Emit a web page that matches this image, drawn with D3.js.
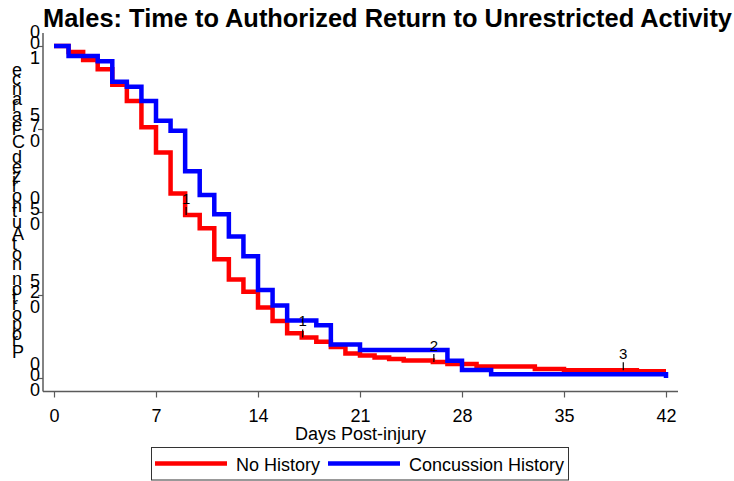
<!DOCTYPE html>
<html>
<head>
<meta charset="utf-8">
<script src="https://cdn.jsdelivr.net/npm/d3@7"></script>
<style>
  body { margin: 0; background: #fff; }
  svg { display: block; font-family: "Liberation Sans", Arial, Helvetica, sans-serif; }
</style>
</head>
<body>
<script>
// Kaplan-Meier step data
var noHistDays = [0, 1, 2, 3, 4, 5, 6, 7, 8, 9, 10, 11, 12, 13, 14, 15, 16, 17, 18, 19, 20, 21, 22, 23, 24, 26, 27, 29, 33, 35, 40, 42]
var noHistSurv = [1, 0.982, 0.958, 0.930, 0.883, 0.834, 0.755, 0.679, 0.556, 0.491, 0.451, 0.358, 0.297, 0.260, 0.212, 0.172, 0.135, 0.122, 0.109, 0.093, 0.074, 0.068, 0.062, 0.057, 0.053, 0.048, 0.042, 0.035, 0.027, 0.023, 0.020, 0.020]
var concDays = [0, 1, 3, 4, 5, 6, 7, 8, 9, 10, 11, 12, 13, 14, 15, 16, 18, 19, 21, 27, 28, 30, 42]
var concSurv = [1, 0.970, 0.954, 0.892, 0.877, 0.834, 0.775, 0.745, 0.623, 0.551, 0.493, 0.426, 0.367, 0.265, 0.218, 0.173, 0.159, 0.101, 0.084, 0.052, 0.024, 0.011, 0]

// censored counts shown on the No History curve
var censorDays = [9, 17, 26, 39]
var censorCounts = [1, 1, 2, 3]

var xTicks = [0, 7, 14, 21, 28, 35, 42]
var yTicks = [0, 0.25, 0.5, 0.75, 1]

var titleText = "Males: Time to Authorized Return to Unrestricted Activity"
var yTitle = "Proportion not Authorized Clearance"
var xTitle = "Days Post-injury"
var seriesNames = ["No History", "Concussion History"]
var seriesColors = ["#ff0000", "#0000ff"]

var W = 734, H = 481
var region = { left: 43, right: 678, top: 33, bottom: 391.5 }
var axisColor = "#5a5a5a"
var fontStack = "'Liberation Sans', Arial, sans-serif"

var x = d3.scaleLinear().domain([0, 42]).range([54, 666])
var y = d3.scaleLinear().domain([0, 1]).range([378, 46])

var svg = d3.select("body").append("svg")
    .attr("width", W)
    .attr("height", H)

// title
svg.append("text")
    .attr("x", 43)
    .attr("y", 27)
    .attr("font-size", "25px")
    .attr("font-weight", "bold")
    .attr("fill", "#000")
    .attr("textLength", 689)
    .attr("lengthAdjust", "spacingAndGlyphs")
    .text(titleText)

// axis lines of the plot region
svg.append("line")
    .attr("x1", region.left).attr("x2", region.left)
    .attr("y1", region.top).attr("y2", region.bottom)
    .attr("stroke", axisColor).attr("stroke-width", 1.5)
svg.append("line")
    .attr("x1", region.left).attr("x2", region.right)
    .attr("y1", region.bottom).attr("y2", region.bottom)
    .attr("stroke", axisColor).attr("stroke-width", 1.5)

// x axis
var xAxis = svg.append("g")
    .attr("transform", "translate(0," + region.bottom + ")")
    .call(d3.axisBottom(x).tickValues(xTicks).tickSize(6).tickPadding(12).tickSizeOuter(0))
xAxis.select(".domain").remove()
xAxis.selectAll(".tick line").attr("stroke", axisColor).attr("stroke-width", 1.2)
xAxis.selectAll(".tick text")
    .attr("font-family", fontStack)
    .attr("font-size", "18px")
    .attr("fill", "#000")

svg.append("text")
    .attr("x", (region.left + region.right) / 2)
    .attr("y", 440)
    .attr("text-anchor", "middle")
    .attr("font-size", "18px")
    .attr("fill", "#000")
    .text(xTitle)

// y axis ticks
var yAxis = svg.append("g")
    .attr("transform", "translate(" + region.left + ",0)")
    .call(d3.axisLeft(y).tickValues(yTicks).tickSize(5).tickSizeOuter(0).tickFormat(""))
yAxis.select(".domain").remove()
yAxis.selectAll(".tick line").attr("stroke", axisColor).attr("stroke-width", 1.2)

// y labels come out with upright glyphs stacked bottom to top
var ctx = document.createElement("canvas").getContext("2d")
ctx.font = "18px " + fontStack
function stacked(str, xLeft, yCenter) {
    var total = ctx.measureText(str).width
    var base = yCenter + total / 2
    var t = svg.append("text")
        .attr("font-size", "18px")
        .attr("fill", "#000")
    str.split("").forEach(function(ch, i) {
        var off = ctx.measureText(str.slice(0, i)).width
        t.append("tspan")
            .attr("x", xLeft)
            .attr("y", base - off)
            .text(ch)
    })
}
var fmt = d3.format(".2f")
yTicks.forEach(function(v) { stacked(fmt(v), 30, y(v)) })
stacked(yTitle, 12, (y(0) + y(1)) / 2)

// survival curves
var step = d3.line()
    .x(function(d) { return x(d[0]) })
    .y(function(d) { return y(d[1]) })
    .curve(d3.curveStepAfter)

var series = [
    d3.zip(noHistDays, noHistSurv),
    d3.zip(concDays, concSurv)
]
series.forEach(function(pts, i) {
    svg.append("path")
        .datum(pts)
        .attr("fill", "none")
        .attr("stroke", seriesColors[i])
        .attr("stroke-width", 4.5)
        .attr("d", step)
})

// censoring ticks and counts
function survAt(days, surv, t) {
    var i = d3.bisectRight(days, t) - 1
    return surv[Math.max(0, i)]
}
censorDays.forEach(function(t, i) {
    var v = survAt(noHistDays, noHistSurv, t)
    var cx = x(t) + 1, cy = y(v)
    svg.append("line")
        .attr("x1", cx).attr("x2", cx)
        .attr("y1", cy - 8).attr("y2", cy)
        .attr("stroke", "#000").attr("stroke-width", 1.2)
    svg.append("text")
        .attr("x", cx)
        .attr("y", cy - 11)
        .attr("text-anchor", "middle")
        .attr("font-size", "15px")
        .attr("fill", "#000")
        .text(censorCounts[i])
})

// legend
var legend = svg.append("g")
legend.append("rect")
    .attr("x", 151.5).attr("y", 447.5)
    .attr("width", 417).attr("height", 32.5)
    .attr("fill", "#fff")
    .attr("stroke", "#333").attr("stroke-width", 1)
var legendX = [[155, 227, 236], [328, 400, 409]]
seriesNames.forEach(function(name, i) {
    legend.append("line")
        .attr("x1", legendX[i][0]).attr("x2", legendX[i][1])
        .attr("y1", 463.5).attr("y2", 463.5)
        .attr("stroke", seriesColors[i]).attr("stroke-width", 4.5)
    legend.append("text")
        .attr("x", legendX[i][2])
        .attr("y", 470.5)
        .attr("font-size", "18px")
        .attr("fill", "#000")
        .text(name)
})
</script>
</body>
</html>
